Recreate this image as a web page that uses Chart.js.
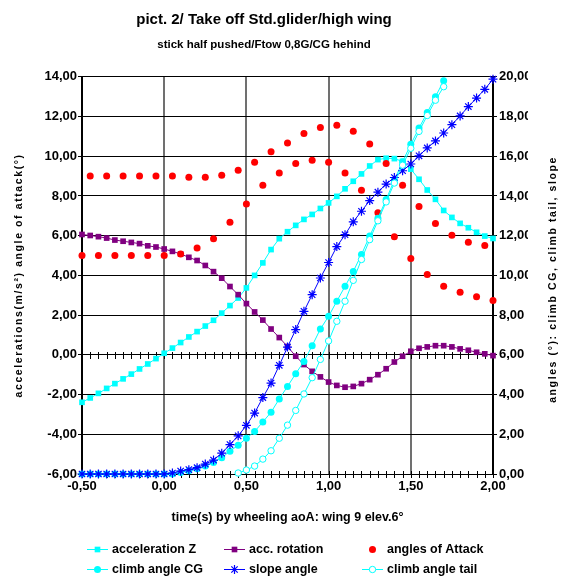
<!DOCTYPE html>
<html>
<head>
<meta charset="utf-8">
<script src="https://cdn.jsdelivr.net/npm/chart.js@4.4.1/dist/chart.umd.min.js"></script>
<style>
  body { margin: 0; background: #fff; }
  canvas { display: block; }
</style>
</head>
<body>
<canvas id="myChart" width="564" height="580"></canvas>
<script>

// time after start of wheeling (s), one sample every 0.05 s
const times = [-0.50, -0.45, -0.40, -0.35, -0.30, -0.25, -0.20, -0.15, -0.10, -0.05,
    0.00, 0.05, 0.10, 0.15, 0.20, 0.25, 0.30, 0.35, 0.40, 0.45,
    0.50, 0.55, 0.60, 0.65, 0.70, 0.75, 0.80, 0.85, 0.90, 0.95,
    1.00, 1.05, 1.10, 1.15, 1.20, 1.25, 1.30, 1.35, 1.40, 1.45,
    1.50, 1.55, 1.60, 1.65, 1.70, 1.75, 1.80, 1.85, 1.90, 1.95, 2.00]

// left axis: m/s² and degrees
const accelZ = [-2.39, -2.17, -1.94, -1.69, -1.45, -1.21, -0.97, -0.71, -0.46, -0.19,
    0.08, 0.34, 0.62, 0.90, 1.17, 1.45, 1.74, 2.10, 2.48, 2.86,
    3.37, 4.00, 4.63, 5.30, 5.85, 6.20, 6.52, 6.82, 7.07, 7.37,
    7.65, 7.98, 8.36, 8.74, 9.11, 9.51, 9.83, 9.90, 9.88, 9.74,
    9.35, 8.84, 8.30, 7.83, 7.27, 6.92, 6.62, 6.40, 6.17, 5.98, 5.86]

const accRotation = [6.06, 6.01, 5.95, 5.88, 5.78, 5.72, 5.66, 5.60, 5.49, 5.43,
    5.33, 5.21, 5.08, 4.91, 4.75, 4.50, 4.19, 3.86, 3.44, 3.03,
    2.58, 2.16, 1.75, 1.30, 0.87, 0.42, -0.07, -0.49, -0.83, -1.11,
    -1.37, -1.54, -1.63, -1.59, -1.45, -1.25, -1.00, -0.70, -0.36, -0.07,
    0.18, 0.33, 0.40, 0.46, 0.46, 0.40, 0.30, 0.23, 0.13, 0.05, -0.04]

// wing and elevator alternate from one sample to the next
const anglesOfAttack = [5.00, 9.00, 5.00, 9.00, 5.00, 9.00, 5.00, 9.00, 5.00, 9.00,
    5.00, 9.00, 5.08, 8.94, 5.38, 8.94, 5.85, 9.04, 6.67, 9.30,
    7.60, 9.70, 8.54, 10.22, 9.16, 10.67, 9.63, 11.14, 9.80, 11.45,
    9.70, 11.56, 9.16, 11.26, 8.29, 10.62, 7.16, 9.63, 5.94, 8.54,
    4.85, 7.47, 4.05, 6.61, 3.45, 6.02, 3.15, 5.67, 2.92, 5.50, 2.73]

// right axis: degrees
const climbCG = [0, 0, 0, 0, 0, 0, 0, 0, 0, 0,
    0, 0, 0.08, 0.16, 0.27, 0.40, 0.58, 0.82, 1.15, 1.45,
    1.80, 2.14, 2.62, 3.11, 3.78, 4.41, 5.05, 5.67, 6.46, 7.30,
    7.94, 8.70, 9.45, 10.20, 11.05, 11.98, 12.88, 13.82, 14.80, 15.72,
    16.60, 17.42, 18.20, 19.00, 19.80, null, null, null, null, null, null]

const slopeAngle = [0, 0, 0, 0, 0, 0, 0, 0, 0, 0,
    0, 0.05, 0.15, 0.22, 0.32, 0.50, 0.70, 1.05, 1.48, 1.92,
    2.45, 3.07, 3.85, 4.58, 5.47, 6.39, 7.27, 8.19, 9.03, 9.87,
    10.65, 11.45, 12.05, 12.70, 13.23, 13.77, 14.19, 14.60, 14.93, 15.27,
    15.61, 16.02, 16.42, 16.77, 17.17, 17.59, 18.03, 18.50, 18.93, 19.37, 19.88]

const climbTail = [null, null, null, null, null, null, null, null, null, null,
    null, null, null, null, null, null, null, null, null, 0.05,
    0.20, 0.40, 0.75, 1.17, 1.80, 2.46, 3.20, 4.03, 4.85, 5.77,
    6.70, 7.69, 8.70, 9.75, 10.80, 11.80, 12.75, 13.70, 14.65, 15.55,
    16.40, 17.25, 18.05, 18.82, 19.50, null, null, null, null, null, null]

const timeTicks = [-0.5, 0, 0.5, 1, 1.5, 2]
const leftTicks = [-6, -4, -2, 0, 2, 4, 6, 8, 10, 12, 14]
const rightTicks = [0, 2, 4, 6, 8, 10, 12, 14, 16, 18, 20]

const LEFT_TITLE = 'accelerations(m/s²) angle of attack(°)'
const RIGHT_TITLE = 'angles (°): climb CG, climb tail, slope'

const FONT = "'Liberation Sans', Arial, sans-serif"
Chart.defaults.font.family = FONT
Chart.defaults.color = '#000'

const coma = v => Number(v).toFixed(2).replace('.', ',')
const puntos = valores => times.map((t, i) => ({ x: t, y: valores[i] })).filter(p => p.y !== null)
const fijarTicks = lista => scale => { scale.ticks = lista.map(v => ({ value: v })) }

// small crossing ticks every 0.05 s on the zero line and on the bottom axis
const marcasMenores = {
    id: 'marcasMenores',
    beforeDatasetsDraw(chart) {
        const { ctx, chartArea, scales: { x, y } } = chart
        const lineas = [Math.round(y.getPixelForValue(0)), Math.round(chartArea.bottom)]
        ctx.save()
        ctx.strokeStyle = '#000'
        ctx.lineWidth = 1
        ctx.beginPath()
        times.forEach(t => {
            const px = Math.round(x.getPixelForValue(t)) + 0.5
            lineas.forEach(py => {
                ctx.moveTo(px, py - 3)
                ctx.lineTo(px, py + 4)
            })
        })
        ctx.stroke()
        ctx.restore()
    }
}

// both axis titles read bottom to top
const titulosEjes = {
    id: 'titulosEjes',
    afterDraw(chart) {
        const { ctx, chartArea } = chart
        const cy = (chartArea.top + chartArea.bottom) / 2
        ctx.save()
        ctx.font = `bold 10.5px ${FONT}`
        ctx.fillStyle = '#000'
        ctx.textAlign = 'center'
        ctx.textBaseline = 'middle'
        ctx.letterSpacing = '1.6px'
        ;[[19, cy, LEFT_TITLE], [553, cy + 4, RIGHT_TITLE]].forEach(([x, y, texto]) => {
            ctx.save()
            ctx.translate(x, y)
            ctx.rotate(-Math.PI / 2)
            ctx.fillText(texto, 0, 0)
            ctx.restore()
        })
        ctx.restore()
    }
}

// legend as a 3 x 2 grid under the x axis title
const leyenda = {
    id: 'leyenda',
    afterDraw(chart) {
        const { ctx } = chart
        const columnas = [87, 224, 362]
        const filas = [549, 569]
        ctx.save()
        ctx.font = `bold 12.5px ${FONT}`
        ctx.textBaseline = 'middle'
        ctx.textAlign = 'left'
        chart.data.datasets.forEach((ds, i) => {
            const x0 = columnas[i % 3]
            const y0 = filas[Math.floor(i / 3)]
            if (ds.showLine !== false) {
                ctx.strokeStyle = ds.borderColor
                ctx.lineWidth = ds.borderWidth
                ctx.beginPath()
                ctx.moveTo(x0, y0 + 0.5)
                ctx.lineTo(x0 + 21, y0 + 0.5)
                ctx.stroke()
            }
            ctx.fillStyle = ds.pointBackgroundColor
            ctx.strokeStyle = ds.pointBorderColor
            ctx.lineWidth = ds.pointBorderWidth
            Chart.helpers.drawPoint(ctx, {
                pointStyle: ds.pointStyle,
                radius: ds.pointRadius,
                borderWidth: ds.pointBorderWidth,
                rotation: 0
            }, x0 + 10.5, y0 + 0.5)
            ctx.fillStyle = '#000'
            ctx.fillText(ds.label, x0 + 25, y0 + 1)
        })
        ctx.restore()
    }
}

const serie = (label, valores, eje, estilo) => Object.assign({
    label: label,
    data: puntos(valores),
    yAxisID: eje,
    borderWidth: 1,
    clip: false
}, estilo)

var ctx = document.getElementById('myChart')
var myChart = new Chart(ctx, {
    type: 'line',
    data: {
        datasets: [
            serie('acceleration Z', accelZ, 'y', {
                borderColor: '#00FFFF', pointStyle: 'rect', pointRadius: 4,
                pointBackgroundColor: '#00FFFF', pointBorderColor: '#00FFFF', pointBorderWidth: 0, order: 6
            }),
            serie('acc. rotation', accRotation, 'y', {
                borderColor: '#800080', pointStyle: 'rect', pointRadius: 4,
                pointBackgroundColor: '#800080', pointBorderColor: '#800080', pointBorderWidth: 0, order: 5
            }),
            serie('angles of Attack', anglesOfAttack, 'y', {
                showLine: false, borderColor: '#FF0000', pointStyle: 'circle', pointRadius: 3.5,
                pointBackgroundColor: '#FF0000', pointBorderColor: '#FF0000', pointBorderWidth: 0, order: 4
            }),
            serie('climb angle CG', climbCG, 'y1', {
                borderColor: '#00FFFF', pointStyle: 'circle', pointRadius: 3.5,
                pointBackgroundColor: '#00FFFF', pointBorderColor: '#00FFFF', pointBorderWidth: 0, order: 3
            }),
            serie('slope angle', slopeAngle, 'y1', {
                borderColor: '#0000FF', pointStyle: 'star', pointRadius: 4.5,
                pointBackgroundColor: '#0000FF', pointBorderColor: '#0000FF', pointBorderWidth: 1.2, order: 2
            }),
            serie('climb angle tail', climbTail, 'y1', {
                borderColor: '#00FFFF', pointStyle: 'circle', pointRadius: 3.2,
                pointBackgroundColor: '#FFFFFF', pointBorderColor: '#00FFFF', pointBorderWidth: 1, order: 1
            })
        ]
    },
    options: {
        responsive: false,
        animation: false,
        devicePixelRatio: 1,
        layout: { padding: { top: 0, left: 0, right: 36, bottom: 50 } },
        plugins: {
            legend: { display: false },
            tooltip: { enabled: false },
            title: {
                display: true,
                text: 'pict. 2/ Take off Std.glider/high wing',
                font: { size: 15, weight: 'bold' },
                padding: { top: 11, bottom: 1 }
            },
            subtitle: {
                display: true,
                text: 'stick half pushed/Ftow 0,8G/CG hehind',
                font: { size: 11.5, weight: 'bold' },
                color: '#000',
                padding: { top: 7.5, bottom: 25.5 }
            }
        },
        scales: {
            x: {
                type: 'linear',
                min: -0.5,
                max: 2,
                afterBuildTicks: fijarTicks(timeTicks),
                afterFit: scale => { scale.height = 56 },
                grid: {
                    color: c => (c.tick && (c.tick.value === -0.5 || c.tick.value === 2)) ? '#000' : '#707070',
                    lineWidth: 2,
                    drawTicks: false
                },
                border: { color: '#000', width: 1 },
                ticks: {
                    callback: v => coma(v),
                    font: { size: 13, weight: 'bold' },
                    padding: 5,
                    maxRotation: 0,
                    autoSkip: false
                },
                title: {
                    display: true,
                    text: 'time(s) by wheeling aoA: wing 9 elev.6°',
                    font: { size: 12.5, weight: 'bold' },
                    padding: { top: 0, bottom: 5 }
                }
            },
            y: {
                position: 'left',
                min: -6,
                max: 14,
                afterBuildTicks: fijarTicks(leftTicks),
                afterFit: scale => { scale.width = 82 },
                grid: { color: '#000', lineWidth: 1, tickLength: 4 },
                border: { color: '#000', width: 1 },
                ticks: { callback: v => coma(v), font: { size: 13, weight: 'bold' }, padding: 1 }
            },
            y1: {
                position: 'right',
                min: 0,
                max: 20,
                afterBuildTicks: fijarTicks(rightTicks),
                afterFit: scale => { scale.width = 35 },
                grid: { drawOnChartArea: false, color: '#000', tickLength: 4 },
                border: { color: '#000', width: 1 },
                ticks: { callback: v => coma(v), font: { size: 13, weight: 'bold' }, padding: 2 }
            }
        }
    },
    plugins: [marcasMenores, titulosEjes, leyenda]
})

</script>
</body>
</html>
